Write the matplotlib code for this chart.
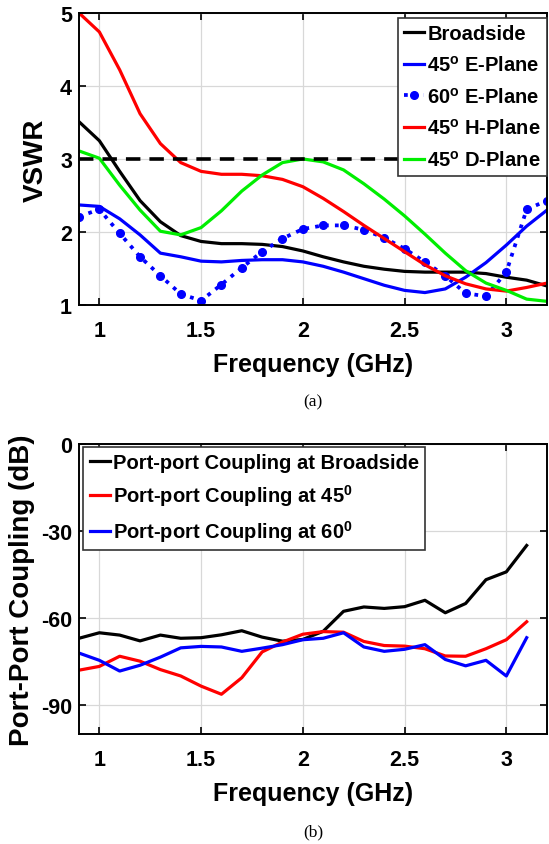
import matplotlib
matplotlib.use("Agg")
import matplotlib.pyplot as plt

# VSWR data (a)
freq_a = [0.9, 1.0, 1.1, 1.2, 1.3, 1.4, 1.5, 1.6, 1.7, 1.8, 1.9, 2.0,
          2.1, 2.2, 2.3, 2.4, 2.5, 2.6, 2.7, 2.8, 2.9, 3.0, 3.1, 3.2]
broadside = [3.51, 3.25, 2.83, 2.43, 2.14, 1.95, 1.87, 1.84, 1.84, 1.83, 1.80, 1.74,
             1.66, 1.59, 1.53, 1.49, 1.46, 1.45, 1.45, 1.45, 1.43, 1.38, 1.34, 1.26]
e45 = [2.37, 2.35, 2.18, 1.96, 1.71, 1.66, 1.60, 1.59, 1.61, 1.62, 1.62, 1.59,
       1.53, 1.45, 1.36, 1.27, 1.20, 1.17, 1.22, 1.38, 1.58, 1.82, 2.08, 2.30]
e60 = [2.21, 2.31, 1.98, 1.66, 1.40, 1.15, 1.06, 1.28, 1.51, 1.73, 1.91, 2.04,
       2.09, 2.09, 2.03, 1.92, 1.77, 1.59, 1.40, 1.16, 1.12, 1.45, 2.31, 2.43]
h45 = [5.00, 4.74, 4.22, 3.62, 3.21, 2.95, 2.83, 2.79, 2.79, 2.77, 2.72, 2.62,
       2.46, 2.28, 2.09, 1.91, 1.73, 1.55, 1.40, 1.29, 1.22, 1.19, 1.24, 1.30]
d45 = [3.11, 3.01, 2.64, 2.30, 2.01, 1.96, 2.06, 2.29, 2.56, 2.78, 2.95, 3.00,
       2.96, 2.85, 2.66, 2.45, 2.22, 1.97, 1.71, 1.47, 1.30, 1.20, 1.08, 1.05]
vswr_limit = 3

# Port-port coupling data (b)
freq_b = [0.9, 1.0, 1.1, 1.2, 1.3, 1.4, 1.5, 1.6, 1.7, 1.8, 1.9, 2.0,
          2.1, 2.2, 2.3, 2.4, 2.5, 2.6, 2.7, 2.8, 2.9, 3.0, 3.1]
cpl_broad = [-67.0, -65.1, -65.9, -67.9, -65.9, -67.0, -66.8, -65.8, -64.4, -66.6, -68.0, -67.4,
             -64.6, -57.7, -56.2, -56.7, -56.1, -53.9, -58.2, -55.0, -46.8, -44.1, -35.0]
cpl_45 = [-78.0, -76.7, -73.2, -74.9, -77.8, -80.0, -83.5, -86.3, -80.6, -71.7, -68.3, -65.6,
          -64.7, -64.9, -68.1, -69.5, -69.7, -70.6, -73.1, -73.2, -70.6, -67.5, -61.3]
cpl_60 = [-72.1, -74.6, -78.3, -76.3, -73.5, -70.3, -69.8, -70.0, -71.5, -70.4, -69.2, -67.5,
          -67.0, -65.1, -70.0, -71.5, -70.8, -69.2, -74.3, -76.5, -74.6, -80.0, -66.8]

xticks = [1, 1.5, 2, 2.5, 3]
xtick_labels = ["1", "1.5", "2", "2.5", "3"]

plt.rcParams["font.family"] = "Liberation Sans"
plt.rcParams["font.weight"] = "bold"
plt.rcParams["axes.unicode_minus"] = False
plt.rcParams["mathtext.fontset"] = "custom"
plt.rcParams["mathtext.rm"] = "Liberation Sans:bold"
plt.rcParams["mathtext.bf"] = "Liberation Sans:bold"
plt.rcParams["mathtext.it"] = "Liberation Sans:bold"

fig = plt.figure(figsize=(5.49, 8.45), dpi=100)
ax1 = fig.add_axes([0.1439, 0.6379, 0.8525, 0.3456])
ax2 = fig.add_axes([0.1439, 0.1302, 0.8525, 0.3432])

lw = 2.3


def style(ax):
    ax.grid(True, color="#d8d8d8", lw=0.9)
    ax.set_axisbelow(True)
    ax.tick_params(direction="in", top=True, right=True, length=5, width=1.2,
                   labelsize=15.5)
    ax.tick_params(axis="x", pad=11)
    ax.tick_params(axis="y", pad=5)
    for s in ax.spines.values():
        s.set_linewidth(1.4)
    ax.set_xticks(xticks)
    ax.set_xticklabels(xtick_labels)
    ax.set_xlim(0.9, 3.2)
    ax.set_xlabel("Frequency (GHz)", fontsize=18, fontweight="bold", labelpad=8)


legend_kw = dict(borderaxespad=0, fontsize=14.5, handlelength=1.0,
                 handletextpad=0.15, borderpad=0.3, fancybox=False, framealpha=1)

# (a)
ax1.plot(freq_a, broadside, color="black", lw=lw, label="Broadside")
ax1.plot(freq_a, e45, color="blue", lw=lw, label=r"45$^{\rm o}$ E-Plane")
ax1.plot(freq_a, e60, color="blue", lw=lw + 0.4, ls=":", marker="o", ms=5.5,
         label=r"60$^{\rm o}$ E-Plane")
ax1.plot(freq_a, h45, color="red", lw=lw, label=r"45$^{\rm o}$ H-Plane")
ax1.plot(freq_a, d45, color="#00ee00", lw=lw, label=r"45$^{\rm o}$ D-Plane")
ax1.plot([freq_a[0], freq_a[-1]], [vswr_limit, vswr_limit], color="black",
         lw=2.6, ls=(0, (4, 2.5)))
ax1.set_ylim(1, 5)
ax1.set_yticks([1, 2, 3, 4, 5])
style(ax1)
ax1.set_ylabel("VSWR", fontsize=20, fontweight="bold", labelpad=8)
leg1 = ax1.legend(loc="upper right", bbox_to_anchor=(1.0, 0.983),
                  labelspacing=0.58, **legend_kw)
leg1.get_frame().set_edgecolor("#333333")
leg1.get_frame().set_linewidth(1.2)

# (b)
ax2.plot(freq_b, cpl_broad, color="black", lw=lw, label="Port-port Coupling at Broadside")
ax2.plot(freq_b, cpl_45, color="red", lw=lw, label=r"Port-port Coupling at 45$^0$")
ax2.plot(freq_b, cpl_60, color="blue", lw=lw, label=r"Port-port Coupling at 60$^0$")
ax2.set_ylim(-100, 0)
ax2.set_yticks([0, -30, -60, -90])
style(ax2)
ax2.set_ylabel("Port-Port Coupling (dB)", fontsize=20, fontweight="bold", labelpad=4)
leg2 = ax2.legend(loc="upper left", bbox_to_anchor=(0.0096, 0.99),
                  labelspacing=0.5, **legend_kw)
leg2.get_frame().set_edgecolor("#333333")
leg2.get_frame().set_linewidth(1.2)

fig.text(0.570, 0.524, "(a)", family="Liberation Serif", fontweight="normal",
         fontsize=12.5, ha="center", va="center")
fig.text(0.570, 0.015, "(b)", family="Liberation Serif", fontweight="normal",
         fontsize=12.5, ha="center", va="center")

fig.savefig("out.png", dpi=100)
